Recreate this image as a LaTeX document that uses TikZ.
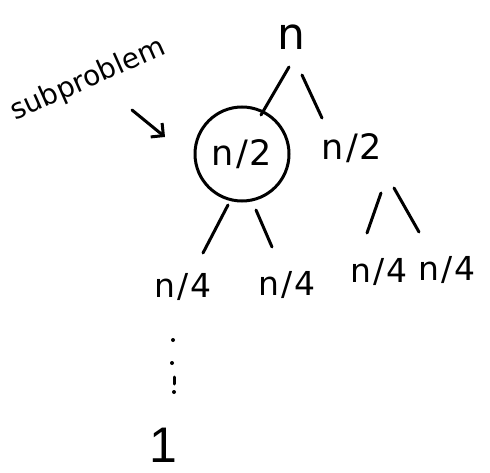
\documentclass[tikz,border=0pt]{standalone}
\usepackage{fontspec}
\setmainfont{DejaVu Sans}
\newfontfamily\plainfont{Liberation Sans}
\usetikzlibrary{arrows.meta}
\begin{document}
\begin{tikzpicture}[x=1pt,y=-1pt,
  ink/.style={line width=3pt, line cap=round, black},
  lbl/.style={inner sep=0pt, font=\fontsize{33}{33}\selectfont},
  half/.style={inner sep=0pt, font=\fontsize{35}{35}\selectfont},
  inkdot/.style={fill=black, draw=none},
]
\useasboundingbox[fill=white] (0,0) rectangle (490,473);

% nodes
\node[inner sep=0pt, font=\fontsize{44}{44}\selectfont] (root) at (291,37) {n};
\node[half, draw, circle, line width=3pt, minimum size=94pt] (l1) at (242,154) {n\kern2pt/\kern2pt2};
\node[half] (r1) at (352,148) {n\kern2pt/\kern2pt2};
\node[lbl] (ll) at (183,287) {n\kern2pt/\kern2pt4};
\node[lbl] (lr) at (287,285) {n\kern2pt/\kern2pt4};
\node[lbl] (rl) at (379,272) {n\kern2pt/\kern2pt4};
\node[lbl] (rr) at (447,270) {n\kern2pt/\kern2pt4};
\node[inner sep=0pt, font=\plainfont\fontsize{50}{50}\selectfont] (base) at (163,445) {1};
\node[inner sep=0pt, rotate=24, font=\fontsize{28}{28}\selectfont] (sub) at (88,80) {subproblem};

% connectors
\draw[ink] ([shift={(-2,30)}]root.center) -- ([shift={(19,-39)}]l1.center);
\draw[ink] ([shift={(11,38)}]root.center) -- ([shift={(-30,-30)}]r1.center);
\draw[ink] ([shift={(-14,51)}]l1.center) -- ([shift={(20,-34)}]ll.center);
\draw[ink] ([shift={(14,56)}]l1.center) -- ([shift={(-15,-38)}]lr.center);
\draw[ink] ([shift={(29,45)}]r1.center) -- ([shift={(-12,-39)}]rl.center);
\draw[ink] ([shift={(42,40)}]r1.center) -- ([shift={(-28,-38)}]rr.center);
\draw[ink, -{Straight Barb[length=9pt, width=18pt, line width=3pt]}]
  ([shift={(44,30)}]sub.center) -- ([shift={(-77,-17)}]l1.center);

% vertical ellipsis below the left n/4
\fill[inkdot] ([shift={(-10,53)}]ll.center) circle (2pt);
\fill[inkdot] ([shift={(-11,76)}]ll.center) circle (2pt);
\draw[ink] ([shift={(-9,90)}]ll.center) -- ([shift={(-9,97)}]ll.center);
\fill[inkdot] ([shift={(-9,105)}]ll.center) circle (2pt);
\end{tikzpicture}
\end{document}
